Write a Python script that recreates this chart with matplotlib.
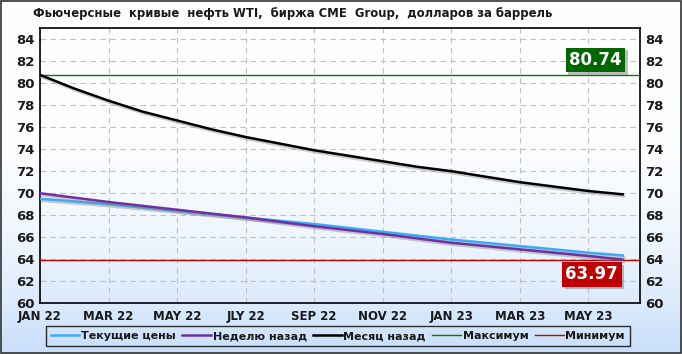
import numpy as np
import matplotlib.pyplot as plt
import matplotlib.patheffects as pe
from matplotlib.patches import Rectangle

# futures curve data, Jan 22 .. Jun 23 contracts
months = ['JAN 22', 'FEB 22', 'MAR 22', 'APR 22', 'MAY 22', 'JUN 22', 'JLY 22', 'AUG 22', 'SEP 22',
          'OCT 22', 'NOV 22', 'DEC 22', 'JAN 23', 'FEB 23', 'MAR 23', 'APR 23', 'MAY 23', 'JUN 23']
current = [69.5, 69.25, 69.0, 68.7, 68.4, 68.1, 67.8, 67.5, 67.2, 66.85, 66.5, 66.15,
           65.8, 65.5, 65.2, 64.9, 64.6, 64.35]
week_ago = [70.0, 69.6, 69.2, 68.85, 68.5, 68.15, 67.8, 67.4, 67.0, 66.65, 66.3, 65.9,
            65.5, 65.2, 64.9, 64.6, 64.3, 63.97]
month_ago = [80.74, 79.5, 78.4, 77.4, 76.6, 75.8, 75.1, 74.5, 73.9, 73.4, 72.9, 72.4,
             72.0, 71.5, 71.0, 70.6, 70.2, 69.9]
max_val = 80.74
min_val = 63.97

x = np.arange(len(months))

fig = plt.figure(figsize=(6.82, 3.54), dpi=100)

# background gradient, white at top to light blue at bottom
bg = fig.add_axes([0, 0, 1, 1], zorder=-10)
grad = np.linspace(0, 1, 256).reshape(-1, 1)
top_c = np.array([1.0, 1.0, 1.0])
bot_c = np.array([0.78, 0.87, 0.98])
img = top_c + (bot_c - top_c) * grad ** 3
bg.imshow(img.reshape(256, 1, 3), aspect='auto', extent=[0, 1, 0, 1])
bg.add_patch(Rectangle((0.002, 0.003), 0.996, 0.994, transform=bg.transAxes,
                       fill=False, edgecolor='#333333', linewidth=1.2))
bg.axis('off')

ax = fig.add_axes([0.0587, 0.143, 0.8795, 0.778])
ax.set_facecolor('none')

shadow = [pe.SimpleLineShadow(offset=(1, -1.5), shadow_color='gray', alpha=0.4), pe.Normal()]

ax.plot(x, current, color='#3fa9f5', linewidth=1.8, label='Текущие цены', path_effects=shadow, zorder=4)
ax.plot(x, week_ago, color='#7030a0', linewidth=1.8, label='Неделю назад', path_effects=shadow, zorder=4)
ax.plot(x, month_ago, color='black', linewidth=1.8, label='Месяц назад', path_effects=shadow, zorder=4)
ax.axhline(max_val, color='#008000', linewidth=1, label='Максимум', zorder=3)
ax.axhline(min_val, color='#c00000', linewidth=1, label='Минимум', zorder=3)

ax.set_xlim(0, 17.5)
ax.set_ylim(60, 85)
ax.set_xticks(x[::2])
ax.set_xticklabels(months[::2])
ax.set_yticks(np.arange(60, 85, 2))
ax.grid(True, color='#c0c0c0', linestyle=(0, (5, 4)), linewidth=0.8)
ax.tick_params(axis='both', length=0, labelsize=9.5, colors='#1a1a1a')
ax.tick_params(axis='y', labelright=True, pad=4)
ax.tick_params(axis='x', labelsize=8.5, pad=5)
for t in ax.get_xticklabels() + ax.yaxis.get_majorticklabels():
    t.set_fontweight('bold')
for sp in ax.spines.values():
    sp.set_linewidth(1.2)
    sp.set_color('black')


# value boxes with a small shadow
def value_box(xv, yv, text, color):
    t = ax.text(xv, yv, text, ha='center', va='center', fontsize=12, fontweight='bold', color='white',
                zorder=6, bbox=dict(boxstyle='square,pad=0.2', facecolor=color, edgecolor='none'))
    t.get_bbox_patch().set_path_effects([pe.withSimplePatchShadow(offset=(2, -2), shadow_rgbFace='gray',
                                                                  alpha=0.5)])

value_box(16.2, 82.1, '80.74', '#006600')
value_box(16.1, 62.65, '63.97', '#c00000')

fig.text(0.048, 0.963, 'Фьючерсные  кривые  нефть WTI,  биржа CME  Group,  долларов за баррель',
         fontsize=8.4, fontweight='bold', color='#1a1a1a', va='center', ha='left')

leg = fig.legend(loc='center', bbox_to_anchor=(0.0587, 0.018, 0.873, 0.064), mode='expand', ncol=5,
                 frameon=True, fontsize=8, handlelength=2.6, handletextpad=0.15, borderpad=0.45,
                 columnspacing=0.8, fancybox=False)
leg.get_frame().set_edgecolor('black')
leg.get_frame().set_facecolor('none')
leg.get_frame().set_linewidth(1.0)
for t in leg.get_texts():
    t.set_fontweight('bold')
    t.set_color('#1a1a1a')
for h in leg.get_lines():
    h.set_path_effects([])

fig.savefig('out.png', dpi=100)
